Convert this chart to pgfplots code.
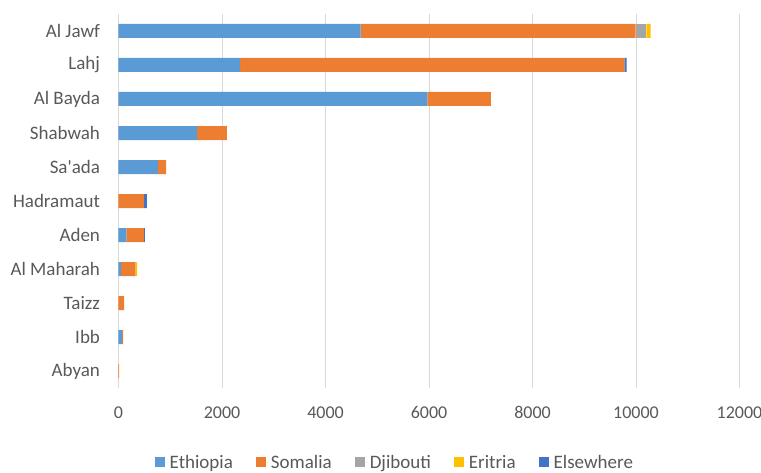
\documentclass[border=0pt]{standalone}
\usepackage{pgfplots}
\pgfplotsset{compat=1.18}
\usepackage{fontspec}
\setmainfont{Carlito}
\definecolor{cEth}{HTML}{5B9BD5}
\definecolor{cSom}{HTML}{ED7D31}
\definecolor{cDji}{HTML}{A5A5A5}
\definecolor{cEri}{HTML}{FFC000}
\definecolor{cEls}{HTML}{4472C4}
\definecolor{txt}{HTML}{595959}
\definecolor{gridc}{HTML}{D9D9D9}
\begin{document}
\begin{tikzpicture}
\begin{axis}[
  at={(0,0)}, anchor=south west,
  scale only axis, width=621pt, height=374pt,
  xbar stacked, bar width=14pt,
  xmin=0, xmax=12000, ymin=-0.5, ymax=10.5, y dir=reverse,
  ytick={0,...,10},
  yticklabels={Al Jawf,Lahj,Al Bayda,Shabwah,Sa\textquotesingle ada,Hadramaut,Aden,Al Maharah,Taizz,Ibb,Abyan},
  xtick={0,2000,...,12000},
  scaled x ticks=false,
  xticklabel style={/pgf/number format/set thousands separator={}, /pgf/number format/assume math mode=true, font=\fontsize{18}{22}\selectfont, text=txt, yshift=-15pt},
  yticklabel style={font=\fontsize{19}{22}\selectfont, text=txt, xshift=-15pt},
  xmajorgrids, grid style={gridc, line width=0.9pt},
  axis line style={draw=none},
  major tick length=0pt,
  tick style={draw=none},
  every axis plot/.append style={draw=none},
  legend style={at={(0.445,-0.168)}, anchor=north, draw=none, legend columns=-1,
    font=\fontsize{19}{22}\selectfont, text=txt},
  legend image code/.code={\path (0pt,0pt) -- (13pt,0pt); \fill[#1] (0pt,-5pt) rectangle (10pt,5pt);},
]
\addplot[fill=cEth] coordinates {(4680,0) (2350,1) (5970,2) (1520,3) (760,4) (0,5) (150,6) (52,7) (0,8) (72,9) (0,10)};
\addplot[fill=cSom] coordinates {(5315,0) (7425,1) (1225,2) (572,3) (158,4) (490,5) (340,6) (274,7) (111,8) (19,9) (12,10)};
\addplot[fill=cDji] coordinates {(204,0) (0,1) (0,2) (0,3) (0,4) (0,5) (0,6) (0,7) (0,8) (0,9) (0,10)};
\addplot[fill=cEri] coordinates {(82,0) (0,1) (0,2) (0,3) (0,4) (0,5) (0,6) (32,7) (0,8) (0,9) (0,10)};
\addplot[fill=cEls] coordinates {(0,0) (42,1) (0,2) (0,3) (0,4) (58,5) (19,6) (0,7) (0,8) (0,9) (0,10)};
\legend{Ethiopia\rule{21pt}{0pt},Somalia\rule{21pt}{0pt},Djibouti\rule{21pt}{0pt},Eritria\rule{21pt}{0pt},Elsewhere}
\end{axis}
\pgfresetboundingbox
\path (-118.5pt,-85pt) rectangle (642.5pt,388pt);
\end{tikzpicture}
\end{document}
